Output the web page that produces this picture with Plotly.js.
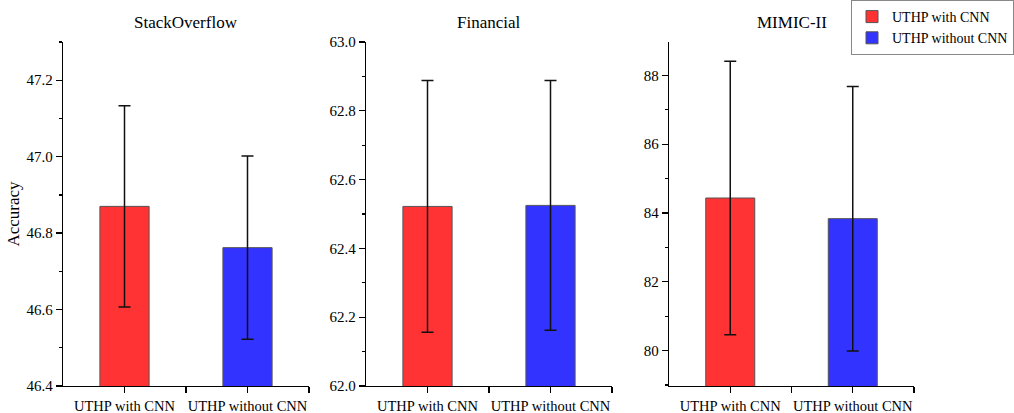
<!DOCTYPE html>
<html>
<head>
<meta charset="utf-8">
<script src="https://cdn.plot.ly/plotly-3.0.1.min.js"></script>
<style>html,body{margin:0;padding:0;background:#fff;}#chart{width:1014px;height:413px;}</style>
</head>
<body>
<div id="chart"></div>
<script>
// ---- data ----
const categories = ['UTHP with CNN', 'UTHP without CNN'];
const datasets = ['StackOverflow', 'Financial', 'MIMIC-II'];
const withCNN = [46.870, 62.522, 84.435];
const withCNNErr = [0.263, 0.366, 3.975];
const withoutCNN = [46.762, 62.525, 83.835];
const withoutCNNErr = [0.240, 0.363, 3.845];
const yRanges = [[46.4, 47.3], [62.0, 63.0], [78.97, 88.97]];
const yDticks = [0.2, 0.2, 2];
const yMinorDticks = [0.1, 0.1, 1];
const yFormats = ['.1f', '.1f', 'd'];

// ---- layout helpers ----
const W = 1014, H = 413;
const xDomainsPx = [[63, 309], [366, 612], [669, 914]];
const yTopPx = 42, yBotPx = 386;
const FONT = '"Liberation Serif", "Times New Roman", serif';

const traces = [];
const layout = {
  width: W, height: H,
  margin: {l: 0, r: 0, t: 0, b: 0},
  paper_bgcolor: '#fff', plot_bgcolor: '#fff',
  barmode: 'overlay',
  font: {family: FONT, color: '#000', size: 15},
  showlegend: true,
  legend: {
    x: 1, y: 1, xanchor: 'right', yanchor: 'top',
    bordercolor: '#888', borderwidth: 1, bgcolor: '#fff',
    font: {family: FONT, size: 14, color: '#000'},
    tracegroupgap: 0, itemwidth: 30
  },
  annotations: []
};

datasets.forEach((name, i) => {
  const ax = i === 0 ? '' : String(i + 1);
  const series = [
    {label: categories[0], val: withCNN[i], err: withCNNErr[i], color: '#FF3333'},
    {label: categories[1], val: withoutCNN[i], err: withoutCNNErr[i], color: '#3333FF'}
  ];
  series.forEach((s, j) => {
    traces.push({
      type: 'bar',
      x: [j], y: [s.val],
      name: s.label,
      legendgroup: s.label,
      showlegend: i === 0,
      width: 0.4,
      marker: {color: s.color, line: {color: '#555', width: 1}},
      error_y: {type: 'data', array: [s.err], visible: true, color: '#111', thickness: 1.5, width: 6},
      xaxis: 'x' + ax, yaxis: 'y' + ax,
      hoverinfo: 'skip'
    });
  });
  const d = xDomainsPx[i];
  layout['xaxis' + ax] = {
    domain: [d[0] / W, d[1] / W],
    anchor: 'y' + ax,
    range: [-0.5, 1.5],
    tickmode: 'array', tickvals: [0, 1], ticktext: categories,
    ticks: 'outside', ticklen: 6, tickwidth: 1.3, tickcolor: '#000',
    minor: {tickvals: [0.5, 1.5], ticks: 'outside', ticklen: 6, tickwidth: 1.3, tickcolor: '#000'},
    showline: true, linecolor: '#000', linewidth: 1.3,
    showgrid: false, zeroline: false, fixedrange: true,
    tickfont: {family: FONT, size: 14.5, color: '#000'},
    automargin: false
  };
  layout['yaxis' + ax] = {
    domain: [(H - yBotPx) / H, (H - yTopPx) / H],
    anchor: 'x' + ax,
    range: yRanges[i],
    dtick: yDticks[i], tick0: yRanges[i][0], tickformat: yFormats[i],
    ticks: 'outside', ticklen: 6, tickwidth: 1.3, tickcolor: '#000',
    minor: {dtick: yMinorDticks[i], ticks: 'outside', ticklen: 3, tickwidth: 1.3, tickcolor: '#000'},
    showline: true, linecolor: '#000', linewidth: 1.3,
    showgrid: false, zeroline: false, fixedrange: true,
    tickfont: {family: FONT, size: 15, color: '#000'},
    automargin: false
  };
  if (i === 2) layout['yaxis' + ax].tick0 = 80;
  if (i === 0) {
    layout['yaxis' + ax].title = {text: 'Accuracy', font: {family: FONT, size: 17, color: '#000'}, standoff: 2};
  }
  layout.annotations.push({
    text: name, showarrow: false,
    xref: 'x' + ax + ' domain', x: 0.5, xanchor: 'center',
    yref: 'paper', y: (H - 22) / H, yanchor: 'middle',
    font: {family: FONT, size: 17, color: '#000'}
  });
});

Plotly.newPlot('chart', traces, layout, {displayModeBar: false, staticPlot: true});
</script>
</body>
</html>
